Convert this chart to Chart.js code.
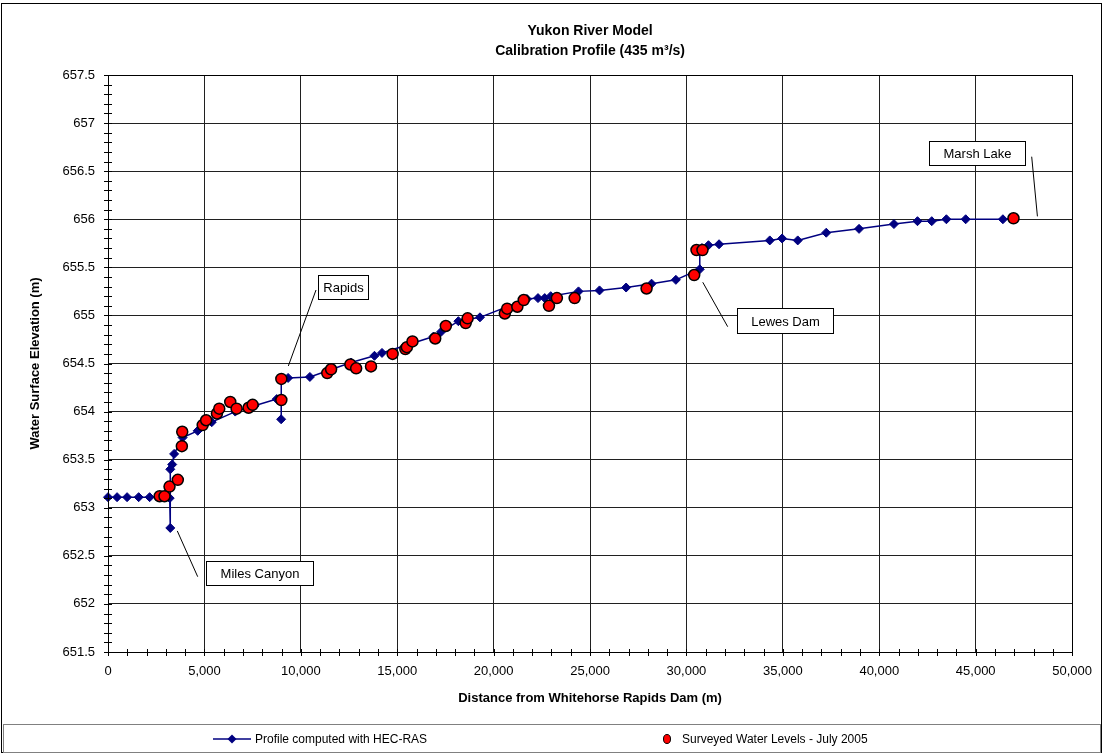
<!DOCTYPE html>
<html><head><meta charset="utf-8">
<script src="https://cdn.jsdelivr.net/npm/chart.js@4/dist/chart.umd.min.js"></script>
<style>html,body{margin:0;padding:0;background:#fff;}#wrap{width:1104px;height:754px;position:relative;}</style>
</head><body><div id="wrap"><canvas id="c" width="1104" height="754"></canvas></div>
<script>
// ---- Data ----
const hecDistance = [0,470,990,1590,2160,2950,3200,3230,3230,3330,3430,3870,4650,5380,6600,7600,8750,8980,8980,8990,9340,10470,12610,13820,14210,16880,17280,18170,19290,21730,22300,22650,22960,24400,25490,26870,28190,29450,30690,30690,30800,31140,31690,34320,34960,35770,37250,38950,40760,41980,42720,43480,44480,46410,46960];
const hecElevation = [653.11,653.11,653.11,653.11,653.11,653.11,653.10,652.79,653.40,653.45,653.56,653.73,653.80,653.89,654.00,654.06,654.13,654.13,653.92,654.35,654.35,654.36,654.51,654.58,654.61,654.78,654.83,654.94,654.98,655.17,655.18,655.18,655.20,655.25,655.26,655.29,655.33,655.37,655.48,655.68,655.70,655.73,655.74,655.78,655.80,655.78,655.86,655.90,655.95,655.98,655.98,656.00,656.00,656.00,656.01];
const surveyDistance = [2680,2930,3190,3620,3830,3850,4910,5090,5650,5770,6340,6670,7290,7500,8990,8990,11370,11570,12570,12870,13640,14760,15420,15500,15790,16970,17520,18550,18650,20580,20700,21230,21560,22870,23280,24200,27930,30400,30520,30830,46960];
const surveyElevation = [653.12,653.12,653.22,653.29,653.64,653.79,653.86,653.91,653.98,654.03,654.10,654.03,654.04,654.07,654.12,654.34,654.40,654.44,654.49,654.45,654.47,654.60,654.65,654.67,654.73,654.76,654.89,654.92,654.97,655.02,655.07,655.09,655.16,655.10,655.18,655.18,655.28,655.42,655.68,655.68,656.01];
const xTickValues = [0,5000,10000,15000,20000,25000,30000,35000,40000,45000,50000];
const yTickValues = [651.5,652,652.5,653,653.5,654,654.5,655,655.5,656,656.5,657,657.5];
const seriesNames = ['Profile computed with HEC-RAS','Surveyed Water Levels - July 2005'];
const titleLines = ['Yukon River Model','Calibration Profile (435 m\u00b3/s)'];
const xTitle = 'Distance from Whitehorse Rapids Dam (m)';
const yTitle = 'Water Surface Elevation (m)';
const labelNames = ['Miles Canyon','Rapids','Lewes Dam','Marsh Lake'];
const labelAnchorX = [3230, 8990, 30690, 48200];
const labelAnchorY = [652.79, 654.35, 655.48, 656.03];

// ---- Layout (pixels) ----
const FONT = '"Liberation Sans", Arial, sans-serif';
const labelBoxes = [ // leader start offset from anchor, leader end, box rect
  {lx0:7, ly0:3, lx1:197.7, ly1:576.7, bx:206.5, by:561.5, bw:107, bh:24},
  {lx0:7, ly0:-12, lx1:316, ly1:290, bx:318.5, by:275.5, bw:50, bh:24},
  {lx0:3, ly0:13, lx1:727.7, ly1:326.7, bx:737.5, by:308.5, bw:96, bh:25},
  {lx0:0, ly0:0, lx1:1031.7, ly1:156.7, bx:929.5, by:141.5, bw:96, bh:24}
];

const hecData = hecDistance.map((x,i)=>({x, y: hecElevation[i]}));
const surveyData = surveyDistance.map((x,i)=>({x, y: surveyElevation[i]}));

const decor = {
  id: 'decor',
  beforeDraw(chart){
    const ctx = chart.ctx;
    ctx.save(); ctx.fillStyle = '#fff'; ctx.fillRect(0,0,chart.width,chart.height); ctx.restore();
  },
  afterDraw(chart){
    const ctx = chart.ctx, ca = chart.chartArea;
    const xs = chart.scales.x, ys = chart.scales.y;
    ctx.save();
    // plot frame
    ctx.strokeStyle = '#000'; ctx.lineWidth = 1;
    ctx.strokeRect(Math.round(ca.left)+0.5, Math.round(ca.top)+0.5, Math.round(ca.right-ca.left), Math.round(ca.bottom-ca.top));
    // ticks (major + minor), crossing the axes
    ctx.beginPath();
    for (let v = 0; v <= 50000; v += 1000) {
      const px = Math.round(xs.getPixelForValue(v)) + 0.5;
      ctx.moveTo(px, ca.bottom - 3); ctx.lineTo(px, ca.bottom + 4);
    }
    for (let k = 0; k <= 60; k++) {
      const v = 651.5 + k * 0.1;
      const py = Math.round(ys.getPixelForValue(v)) + 0.5;
      ctx.moveTo(ca.left - 4, py); ctx.lineTo(ca.left + 4, py);
    }
    ctx.stroke();
    // outer border
    ctx.strokeStyle = '#000';
    ctx.strokeRect(1.5, 3.5, 1100, 749);
    // titles
    ctx.fillStyle = '#000';
    ctx.textAlign = 'center'; ctx.textBaseline = 'middle';
    ctx.font = 'bold 14px ' + FONT;
    const cx = (ca.left + ca.right) / 2;
    ctx.fillText(titleLines[0], cx, 31);
    ctx.fillText(titleLines[1], cx, 51);
    ctx.font = 'bold 13px ' + FONT;
    ctx.fillText(xTitle, cx, 698);
    ctx.save();
    ctx.translate(35, (ca.top + ca.bottom) / 2);
    ctx.rotate(-Math.PI/2);
    ctx.fillText(yTitle, 0, 0);
    ctx.restore();
    // annotations
    ctx.font = '13px ' + FONT;
    labelNames.forEach((name, i) => {
      const b = labelBoxes[i];
      const ax = xs.getPixelForValue(labelAnchorX[i]) + b.lx0;
      const ay = ys.getPixelForValue(labelAnchorY[i]) + b.ly0;
      ctx.strokeStyle = '#000'; ctx.lineWidth = 1;
      ctx.beginPath(); ctx.moveTo(ax, ay); ctx.lineTo(b.lx1, b.ly1); ctx.stroke();
      ctx.fillStyle = '#fff'; ctx.fillRect(b.bx, b.by, b.bw, b.bh);
      ctx.strokeRect(b.bx, b.by, b.bw, b.bh);
      ctx.fillStyle = '#000'; ctx.textAlign = 'center'; ctx.textBaseline = 'middle';
      ctx.fillText(name, b.bx + b.bw/2, b.by + b.bh/2 + 1);
    });
    // legend box
    ctx.strokeStyle = '#808080'; ctx.lineWidth = 1;
    ctx.strokeRect(3.5, 724.5, 1097, 28);
    const ly = 739;
    ctx.strokeStyle = '#000080'; ctx.lineWidth = 1.5;
    ctx.beginPath(); ctx.moveTo(213, ly); ctx.lineTo(251, ly); ctx.stroke();
    ctx.fillStyle = '#000080';
    ctx.beginPath(); ctx.moveTo(232, ly-4.5); ctx.lineTo(236.5, ly); ctx.lineTo(232, ly+4.5); ctx.lineTo(227.5, ly); ctx.closePath(); ctx.fill();
    ctx.fillStyle = '#000'; ctx.textAlign = 'left'; ctx.font = '12px ' + FONT;
    ctx.fillText(seriesNames[0], 255, ly + 1);
    ctx.fillStyle = '#ff0000'; ctx.strokeStyle = '#000'; ctx.lineWidth = 1;
    ctx.beginPath(); ctx.ellipse(667, ly, 3.5, 4.5, 0, 0, Math.PI*2); ctx.fill(); ctx.stroke();
    ctx.fillStyle = '#000';
    ctx.fillText(seriesNames[1], 682, ly + 1);
    ctx.restore();
  }
};

new Chart(document.getElementById('c'), {
  type: 'scatter',
  data: {
    datasets: [
      { label: seriesNames[1], data: surveyData, order: 0, showLine: false,
        pointStyle: 'circle', pointRadius: 5.5, pointBackgroundColor: '#ff0000',
        pointBorderColor: '#000', pointBorderWidth: 1.5, clip: false },
      { label: seriesNames[0], data: hecData, order: 1, showLine: true,
        borderColor: '#000080', borderWidth: 1.5, tension: 0,
        pointStyle: 'rectRot', pointRadius: 4.5, pointBackgroundColor: '#000080',
        pointBorderColor: '#000080', pointBorderWidth: 1, clip: false }
    ]
  },
  options: {
    responsive: false, animation: false, devicePixelRatio: 1,
    layout: { padding: { left: 0, top: 75, right: 28, bottom: 72 } },
    plugins: { legend: { display: false }, title: { display: false }, tooltip: { enabled: false } },
    scales: {
      x: {
        type: 'linear', min: 0, max: 50000,
        afterFit: s => { s.height = 30; },
        afterBuildTicks: s => { s.ticks = xTickValues.map(v => ({value: v})); },
        ticks: { padding: 12, color: '#000', font: { family: FONT, size: 13 }, maxRotation: 0,
          callback: v => Number(v).toLocaleString('en-US') },
        grid: { color: '#202020', lineWidth: 1, drawTicks: false },
        border: { display: true, color: '#000' }
      },
      y: {
        type: 'linear', min: 651.5, max: 657.5,
        afterFit: s => { s.width = 108; },
        afterBuildTicks: s => { s.ticks = yTickValues.map(v => ({value: v})); },
        ticks: { padding: 13, color: '#000', font: { family: FONT, size: 13 },
          callback: v => String(Number(Number(v).toFixed(1))) },
        grid: { color: '#202020', lineWidth: 1, drawTicks: false },
        border: { display: true, color: '#000' }
      }
    }
  },
  plugins: [decor]
});
</script></body></html>
